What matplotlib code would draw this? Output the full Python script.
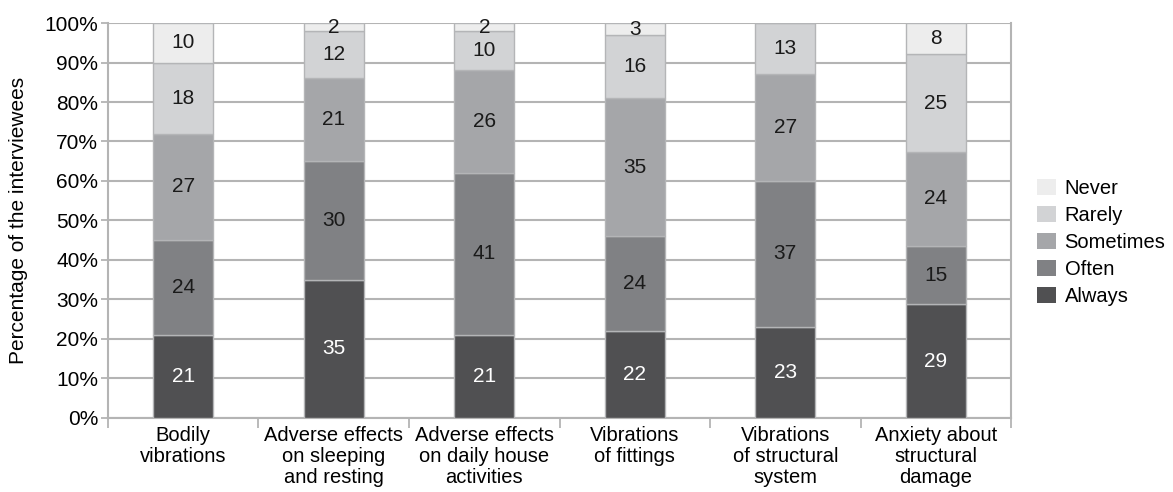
import matplotlib.pyplot as plt
import numpy as np

plt.rcParams['font.family'] = ['Liberation Sans', 'DejaVu Sans']

# survey answers per category (count out of ~100 interviewees)
categories = ['Bodily\nvibrations',
              'Adverse effects\non sleeping\nand resting',
              'Adverse effects\non daily house\nactivities',
              'Vibrations\nof fittings',
              'Vibrations\nof structural\nsystem',
              'Anxiety about\nstructural\ndamage']
always = [21, 35, 21, 22, 23, 29]
often = [24, 30, 41, 24, 37, 15]
sometimes = [27, 21, 26, 35, 27, 24]
rarely = [18, 12, 10, 16, 13, 25]
never = [10, 2, 2, 3, 0, 8]

series = [('Always', always, '#505052', 'white'),
          ('Often', often, '#808184', '#1a1a1a'),
          ('Sometimes', sometimes, '#a5a6a9', '#1a1a1a'),
          ('Rarely', rarely, '#d2d3d5', '#1a1a1a'),
          ('Never', never, '#ededed', '#1a1a1a')]

fs = 15

vals = np.array([s[1] for s in series], dtype=float)
totals = vals.sum(axis=0)
pct = vals / totals * 100

fig = plt.figure(figsize=(11.73, 4.92), dpi=100)
ax = fig.add_axes([0.092, 0.151, 0.770, 0.802])

x = np.arange(len(categories))
bottom = np.zeros(len(categories))
handles = []
for (name, raw, col, tcol), p in zip(series, pct):
    bars = ax.bar(x, p, 0.4, bottom=bottom, color=col, edgecolor='#b4b5b7',
                  linewidth=1.0, zorder=3, label=name)
    handles.append(bars)
    for xi, b, h, r in zip(x, bottom, p, raw):
        if r > 0:
            ax.text(xi, b + h / 2, str(r), ha='center', va='center',
                    fontsize=fs, color=tcol, zorder=4)
    bottom += p

ax.set_xlim(-0.5, len(categories) - 0.5)
ax.set_ylim(0, 100)
ax.set_yticks(np.arange(0, 101, 10))
ax.set_yticklabels([f'{v}%' for v in range(0, 101, 10)], fontsize=fs)
ax.yaxis.grid(True, color='#b4b4b4', linewidth=1.5, zorder=0)

ax.set_xticks(x)
ax.set_xticklabels(categories, fontsize=14.5, linespacing=1.12)
ax.tick_params(axis='x', length=0, pad=6)
ax.set_xticks(np.arange(-0.5, len(categories)), minor=True)
ax.tick_params(axis='x', which='minor', length=7, color='#b4b4b4', width=1.3)
ax.tick_params(axis='y', length=5, color='#b4b4b4', width=1.3, pad=2)

for side in ['left', 'bottom', 'right']:
    ax.spines[side].set_color('#b4b4b4')
    ax.spines[side].set_linewidth(1.5)
ax.spines['top'].set_visible(False)

ax.set_ylabel('Percentage of the interviewees', fontsize=fs, labelpad=12)

leg = ax.legend(handles[::-1], [s[0] for s in series][::-1], loc='center left',
                bbox_to_anchor=(1.029, 0.444), frameon=False, fontsize=14.5,
                handlelength=0.95, handleheight=0.85, handletextpad=0.4,
                labelspacing=0.4, borderaxespad=0, borderpad=0)
for h in leg.legend_handles:
    h.set_edgecolor('none')

plt.savefig('out.png', dpi=100)
